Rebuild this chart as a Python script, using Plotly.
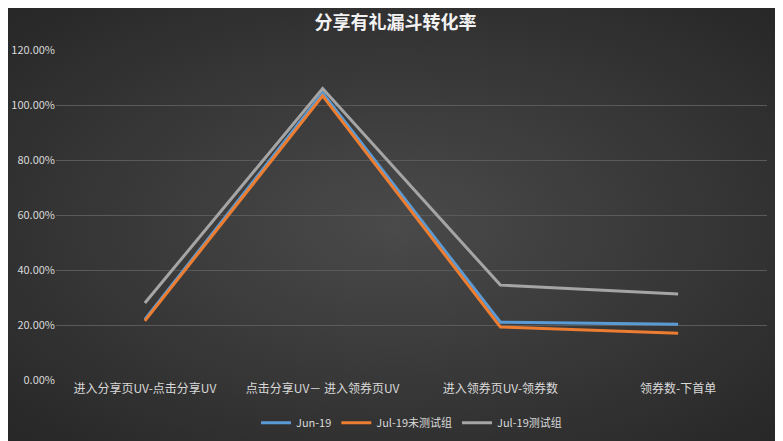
import base64
import plotly.graph_objects as go

# Dados do funil
etapas = ["进入分享页UV-点击分享UV", "点击分享UV－ 进入领券页UV", "进入领券页UV-领券数", "领券数-下首单"]
jun_19 = [0.22, 1.044, 0.21, 0.203]
jul_19_controle = [0.215, 1.033, 0.193, 0.17]
jul_19_teste = [0.28, 1.06, 0.345, 0.313]

series = [
    ("Jun-19", jun_19, "#5b9bd5"),
    ("Jul-19未测试组", jul_19_controle, "#ed7d31"),
    ("Jul-19测试组", jul_19_teste, "#a5a5a5"),
]

fig = go.Figure()
for nome, valores, cor in series:
    fig.add_trace(go.Scatter(
        x=etapas, y=valores, mode="lines", name=nome,
        line=dict(color=cor, width=3),
        hovertemplate="%{x}<br>%{y:.2%}<extra></extra>",
    ))

# fundo com gradiente radial (estilo Excel)
svg = ('<svg xmlns="http://www.w3.org/2000/svg" width="775" height="433">'
       '<defs><radialGradient id="g" cx="50%" cy="50%" r="70%">'
       '<stop offset="0%" stop-color="#4a4a4a"/>'
       '<stop offset="100%" stop-color="#272727"/>'
       '</radialGradient></defs>'
       '<rect width="775" height="433" fill="url(#g)"/></svg>')
fundo = "data:image/svg+xml;base64," + base64.b64encode(svg.encode()).decode()

# plot area em pixels: 711 x 330
fig.add_layout_image(
    source=fundo, xref="paper", yref="paper",
    x=-48 / 711, y=1 + 42 / 330, sizex=775 / 711, sizey=433 / 330,
    xanchor="left", yanchor="top", sizing="stretch", layer="below",
)

# a página tem margem de 8px no body, por isso o tamanho é compensado
fig.update_layout(
    title=dict(
        text="<b>分享有礼漏斗转化率</b>",
        x=0.5, xanchor="center", y=0.966, yanchor="middle",
        font=dict(size=18, color="#f2f2f2", family="Noto Sans CJK SC"),
    ),
    font=dict(family="Noto Sans CJK SC, Noto Sans", color="#d9d9d9"),
    paper_bgcolor="#333333",
    plot_bgcolor="rgba(0,0,0,0)",
    width=775, height=433,
    margin=dict(l=48, r=16, t=42, b=61, autoexpand=False),
    legend=dict(
        orientation="h", x=0.5, xanchor="center",
        yref="container", y=0.042, yanchor="middle",
        font=dict(size=11, color="#d9d9d9"),
        itemwidth=30, tracegroupgap=0,
        bgcolor="rgba(0,0,0,0)",
    ),
    showlegend=True,
)

fig.update_xaxes(
    type="category", range=[-0.5, 3.5], automargin=False,
    showgrid=False, showline=False, zeroline=False,
    tickfont=dict(size=12, color="#d9d9d9"), ticks="",
)
fig.update_yaxes(
    range=[0, 1.2], dtick=0.2, tickformat=".2%", automargin=False,
    showgrid=True, gridcolor="#5a5a5a", gridwidth=1,
    zeroline=False, showline=False,
    tickfont=dict(size=11, color="#d9d9d9"), ticks="",
)

fig.write_html("out.html")
